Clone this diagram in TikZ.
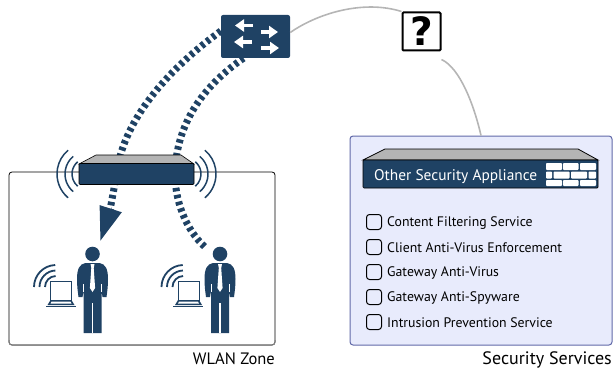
\documentclass[tikz,border=0pt]{standalone}
\usepackage{fontspec}
\setmainfont{PT Sans}
\newfontfamily\heavyfont{DejaVu Sans}
\usetikzlibrary{arrows.meta,calc}
\definecolor{navy}{HTML}{1F4264}
\definecolor{lidgray}{HTML}{B4B4B4}
\definecolor{panelblue}{HTML}{E8EBFC}
\definecolor{panelline}{HTML}{6169A8}
\definecolor{wiregray}{HTML}{B5B5B5}
\tikzset{
	lbl/.style={font=\fontsize{13.8}{15}\selectfont,inner sep=0pt},
	zonelbl/.style={font=\fontsize{16.5}{19}\selectfont,inner sep=0pt},
	rackbox/.style={draw=black,fill=navy,rounded corners=1pt,inner sep=0pt,line width=0.7pt},
	wire/.style={draw=wiregray,line width=1.6pt},
	radio/.style={draw=navy,line width=1.5pt},
	linkdash/.style={draw=navy,line width=7pt,dash pattern=on 3.6pt off 3.4pt},
	tickbox/.style={draw=black,line width=1pt,rounded corners=3pt,minimum size=15pt,inner sep=0pt},
	brick/.style={fill=white,rounded corners=0.8pt},
	user/.pic={
		% person
		\fill[navy] (0,-1) circle (7.3);
		\fill[navy] (-7,8) .. controls (-13,9) and (-15.5,14) .. (-15.5,24)
			.. controls (-15.5,30) and (-15,35) .. (-14,42) -- (-10,42) -- (-9,36) -- (-9,43) -- (-9,78) -- (9,78)
			-- (9,36) -- (10,42) -- (14,42)
			.. controls (15,35) and (15.5,30) .. (15.5,24)
			.. controls (15.5,14) and (13,9) .. (7,8) -- cycle;
		\fill[white] (-0.7,48) rectangle (0.7,78);
		\fill[white] (-2,9) -- (2,9) -- (1.2,13) -- (2.6,33) -- (0,37) -- (-2.6,33) -- (-1.2,13) -- cycle;
		\draw[white,line width=0.7pt] (-9,29) -- (-9,37) (9,29) -- (9,37);
		% laptop
		\draw[navy,line width=1pt] (-42,26) rectangle (-21,45);
		\fill[navy] (-42,45) -- (-21,45) -- (-18,50) -- (-45,50) -- cycle;
		\fill[white] (-41,46.5) -- (-22,46.5) -- (-21,48.7) -- (-42,48.7) -- cycle;
		\fill[navy] (-47,50.6) rectangle (-17,52);
		% laptop radio
		\foreach \r in {11,16.5,22}{
			\draw[radio,line width=1.8pt] (-36.5,32) ++(180:\r) arc (180:268:\r);
		}
	}
}
\begin{document}
\begin{tikzpicture}[x=1pt,y=-1pt]
	\useasboundingbox (0,0) rectangle (613,369);
	% wlan zone
	\node[draw=black,line width=0.8pt,rounded corners=3pt,minimum width=266pt,minimum height=173pt,inner sep=0pt] (wlan) at (142,258.5) {};
	\draw[gray,line width=1pt,rounded corners=3pt] (9,340) -- (9,345) -- (275,345) -- (275,340);
	\node[zonelbl,anchor=base east] (wlanlabel) at (275,364.5) {WLAN Zone};
	% switch
	\node[fill=navy,rounded corners=2pt,minimum width=69pt,minimum height=43pt,inner sep=0pt] (switch) at (255.5,36.5) {};
	\foreach \xa/\xb/\yy in {253/235/25.5,261/278/32,252/234/42,261/279/48}{
		\draw[white,line width=3.5pt,-{Triangle[length=9pt,width=12pt]}] (\xa,\yy) -- (\xb,\yy);
	}
	% radio links
	\coordinate (tipa) at (100,242);
	\coordinate (tipb) at (205,247);
	\draw[linkdash,-{Triangle[length=35pt,width=21pt,fill=navy]}] ([yshift=5.5pt]switch.west)
		.. controls (170,68) and (128,115) .. (118,165)
		.. controls (115,185) and (109,214) .. (tipa);
	\draw[linkdash] ([xshift=-12pt]switch.south)
		.. controls (205,85) and (178,120) .. (175,170)
		.. controls (174,200) and (186,230) .. (tipb);
	% access point
	\fill[lidgray,draw=black,line width=0.6pt] (79,164) -- (96,155) -- (181,155) -- (194,164) -- cycle;
	\node[rackbox,minimum width=115pt,minimum height=21pt] (ap) at (136.5,174) {};
	\foreach \r in {16,23,31}{
		\draw[radio] (ap.center) ++(-48.5,0) ++(130:\r) arc (130:230:\r);
		\draw[radio] (ap.center) ++(48.5,0) ++(50:\r) arc (50:-50:\r);
	}
	% users
	\pic at (92.5,255) {user};
	\pic at (220,255) {user};
	% unknown service
	\node[draw=black,fill=white,line width=2pt,rounded corners=1pt,minimum size=38pt,inner sep=0pt,font=\fontsize{39}{39}\selectfont\heavyfont\bfseries] (query) at (421.5,31.5) {?};
	% security services
	\node[draw=panelline,fill=panelblue,line width=1pt,rounded corners=3pt,minimum width=262pt,minimum height=209pt,inner sep=0pt] (services) at (481,240.5) {};
	\node[zonelbl,font=\fontsize{18}{20}\selectfont,anchor=base east] (serviceslabel) at (612,364) {Security Services};
	\draw[wire] ([yshift=4pt]switch.east) .. controls (320,12) and (365,0) .. (query.north west);
	\draw[wire] ([yshift=-8pt]query.south east) .. controls (460,68) and (474,105) .. (services.north);
	% appliance
	\fill[lidgray,draw=black,line width=0.8pt] (363,160) -- (385,149) -- (578,149) -- (598,160) -- cycle;
	\node[rackbox,minimum width=235pt,minimum height=28pt] (appliance) at (480.5,174) {};
	\node[anchor=west,inner sep=0pt,text=white,font=\fontsize{15.4}{17}\selectfont] (appliancelabel) at (374,176.5) {Other Security Appliance};
	% firewall bricks
	\foreach \xa/\xb in {546/562,563/578.5,580/596}{
		\fill[brick] (\xa,163) rectangle (\xb,170);
		\fill[brick] (\xa,180) rectangle (\xb,186);
	}
	\foreach \xa/\xb in {546/552,553.5/569.5,571/587,588.5/596}{
		\fill[brick] (\xa,171.5) rectangle (\xb,178.5);
	}
	% service list
	\foreach \yy/\name/\txt in {222/a/Content Filtering Service,247/b/Client Anti-Virus Enforcement,272/c/Gateway Anti-Virus,297/d/Gateway Anti-Spyware,322/e/Intrusion Prevention Service}{
		\node[tickbox] (tick\name) at (374,\yy) {};
		\node[lbl,anchor=west] (item\name) at (387,\yy+1) {\txt};
	}
\end{tikzpicture}
\end{document}
